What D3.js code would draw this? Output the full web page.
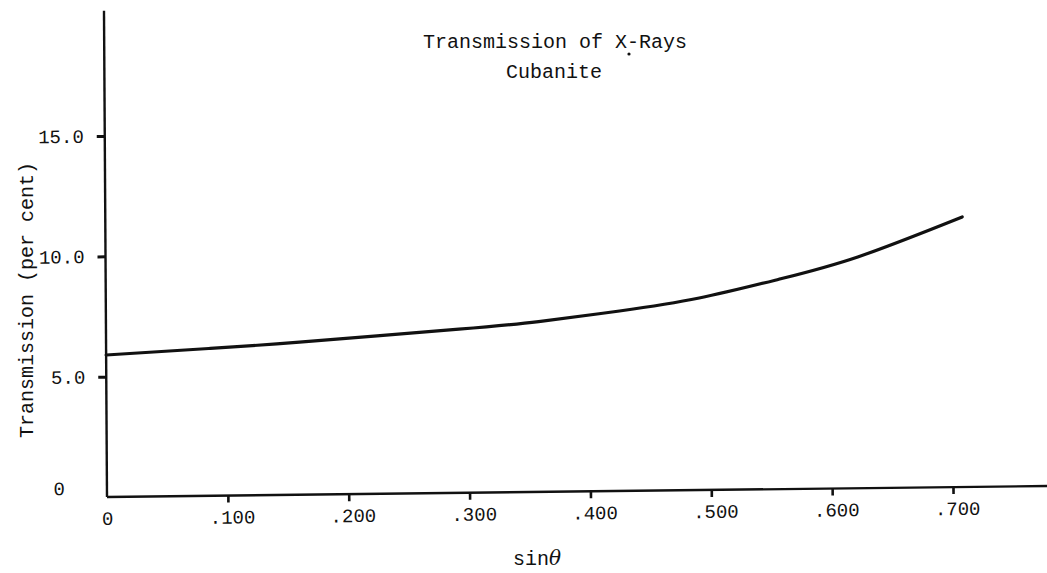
<!DOCTYPE html>
<html>
<head>
<meta charset="utf-8">
<script src="https://cdn.jsdelivr.net/npm/d3@7"></script>
<style>
	body { margin: 0; background: #fff; }
	text { font-family: "Liberation Mono", "DejaVu Sans Mono", monospace; fill: #111; }
</style>
</head>
<body>
<svg width="1047" height="573"></svg>
<script>
"use strict";

// readings
var sinTheta = [0, 0.085, 0.160, 0.292, 0.358, 0.425, 0.491, 0.557, 0.623, 0.709];
var transmission = [5.90, 6.12, 6.34, 6.80, 7.08, 7.48, 7.98, 8.72, 9.62, 11.22];

var xTicks = [0, 0.1, 0.2, 0.3, 0.4, 0.5, 0.6, 0.7];
var yTicks = [0, 5, 10, 15];
var titleLines = ["Transmission of X-Rays", "Cubanite"];
var yLabel = "Transmission (per cent)";

var svg = d3.select('svg');

var x = d3.scaleLinear().domain([0, 0.7]).range([0, 846]);
var y = d3.scaleLinear().domain([0, 15]).range([0, -361]);

// the scanned page is slightly skewed
var g = svg.append('g')
	.attr('transform', 'translate(107,497) matrix(1,-0.0117,0.0062,1,0,0)');

// axis lines
g.append('line')
	.attr('x1', 0).attr('y1', y(0))
	.attr('x2', 0).attr('y2', y(20.2))
	.attr('stroke', '#111').attr('stroke-width', 2.4);
g.append('line')
	.attr('x1', 0).attr('y1', 0)
	.attr('x2', x(0.8)).attr('y2', 0)
	.attr('stroke', '#111').attr('stroke-width', 2.4);

var yAxis = g.append('g')
	.call(d3.axisLeft(y).tickValues(yTicks).tickSize(8).tickSizeOuter(0)
		.tickFormat(function(d) {return d === 0 ? "0" : d3.format(".1f")(d)}));
yAxis.select('.domain').remove();
yAxis.selectAll('line').attr('stroke', '#111').attr('stroke-width', 3)
	.attr('opacity', function(d) {return d === 0 ? 0 : 1});
yAxis.selectAll('text')
	.attr('font-size', 19)
	.attr('x', function(d) {return d === 0 ? -42 : -21})
	.attr('y', function(d) {return d === 0 ? -9 : 0});

var xAxis = g.append('g')
	.call(d3.axisBottom(x).tickValues(xTicks).tickSize(7).tickSizeOuter(0)
		.tickFormat(function(d) {return d === 0 ? "0" : d3.format(".3f")(d).slice(1)}));
xAxis.select('.domain').remove();
xAxis.selectAll('line').attr('stroke', '#111').attr('stroke-width', 2.6)
	.attr('opacity', function(d) {return d === 0 ? 0 : 1});
xAxis.selectAll('text')
	.attr('font-size', 19)
	.attr('dy', null)
	.attr('y', 28)
	.attr('dx', function(d) {return d === 0 ? 0 : 4});
svg.selectAll('.tick text').style('font-family', '"Liberation Mono", monospace');

// the curve
var pts = d3.zip(sinTheta, transmission);
var line = d3.line()
	.x(function(d) {return x(d[0])})
	.y(function(d) {return y(d[1])})
	.curve(d3.curveNatural);
g.append('path')
	.datum(pts)
	.attr('d', line)
	.attr('fill', 'none')
	.attr('stroke', '#111')
	.attr('stroke-width', 3.2)
	.attr('stroke-linecap', 'round');

// titles
svg.append('text')
	.attr('x', 555).attr('y', 48)
	.attr('text-anchor', 'middle')
	.attr('font-size', 20)
	.text(titleLines[0]);
svg.append('circle')
	.attr('cx', 629).attr('cy', 54).attr('r', 1.6).attr('fill', '#111');
svg.append('text')
	.attr('x', 554).attr('y', 78)
	.attr('text-anchor', 'middle')
	.attr('font-size', 20)
	.text(titleLines[1]);

svg.append('text')
	.attr('transform', 'translate(33,300) rotate(-90)')
	.attr('text-anchor', 'middle')
	.attr('font-size', 20)
	.text(yLabel);

var xl = svg.append('text')
	.attr('x', 537).attr('y', 565)
	.attr('text-anchor', 'middle')
	.attr('font-size', 20);
xl.append('tspan').text('sin');
xl.append('tspan')
	.style('font-family', '"DejaVu Serif", serif')
	.style('font-style', 'italic')
	.text('θ');
</script>
</body>
</html>
